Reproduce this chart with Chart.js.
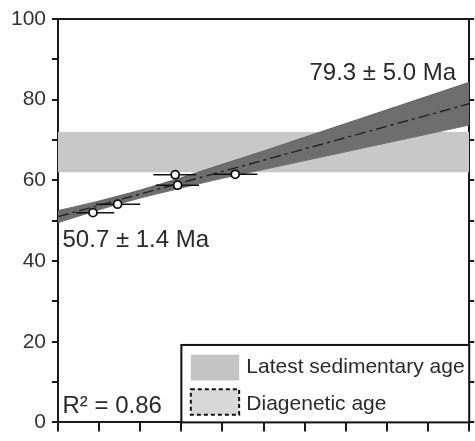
<!DOCTYPE html>
<html>
<head>
<meta charset="utf-8">
<script src="https://cdn.jsdelivr.net/npm/chart.js@4/dist/chart.umd.min.js"></script>
<style>
  body { margin: 0; background: #fff; }
  canvas { display: block; }
</style>
</head>
<body>
<canvas id="myChart" width="475" height="441"></canvas>
<script>
// sample ages with horizontal error bars
const pointX = [0.85, 1.45, 2.85, 2.91, 4.31];
const pointY = [52.0, 54.1, 61.4, 58.8, 61.5];
const errLow = [0.44, 0.93, 2.32, 2.38, 3.80];
const errHigh = [1.37, 2.00, 3.36, 3.43, 4.85];

// regression line and its envelope
const fitX = [0, 10];
const fitY = [51.0, 79.0];
const bandX = [0, 1, 2, 3, 4, 5, 6, 7, 8, 9, 10];
const bandUpper = [52.5, 54.9, 57.6, 60.7, 64.0, 67.3, 70.7, 74.1, 77.5, 80.9, 84.3];
const bandLower = [49.5, 52.7, 55.6, 58.1, 60.5, 62.7, 64.9, 67.1, 69.3, 71.5, 73.7];

// latest sedimentary age range
const latestAge = [62, 72];

const yTicks = [0, 20, 40, 60, 80, 100];

const FONT = '"Liberation Sans", Arial, sans-serif';

function pts(xs, ys) {
    return xs.map((x, i) => ({ x: x, y: ys[i] }));
}

// horizontal error bars, drawn just before the circles
const errorBars = {
    id: 'errorBars',
    beforeDatasetDraw(chart, args) {
        if (args.index !== 0) return;
        const { ctx, scales: { x, y } } = chart;
        ctx.save();
        ctx.strokeStyle = '#111';
        ctx.lineWidth = 1.5;
        pointY.forEach((v, i) => {
            const py = y.getPixelForValue(v);
            ctx.beginPath();
            ctx.moveTo(x.getPixelForValue(errLow[i]), py);
            ctx.lineTo(x.getPixelForValue(errHigh[i]), py);
            ctx.stroke();
        });
        ctx.restore();
    }
};

// text labels and the legend box
const notes = {
    id: 'notes',
    afterDraw(chart) {
        const { ctx, chartArea, scales: { x, y } } = chart;
        ctx.save();
        ctx.fillStyle = '#2a2a2a';
        ctx.textBaseline = 'alphabetic';
        ctx.font = '24px ' + FONT;
        ctx.textAlign = 'right';
        ctx.fillText('79.3 \u00b1 5.0 Ma', x.getPixelForValue(9.68), y.getPixelForValue(84.8));
        ctx.textAlign = 'left';
        ctx.fillText('50.7 \u00b1 1.4 Ma', x.getPixelForValue(0.11), y.getPixelForValue(43.4));
        ctx.fillText('R\u00b2 = 0.86', x.getPixelForValue(0.11), y.getPixelForValue(2.25));

        // legend
        const bx = x.getPixelForValue(3);
        const by = y.getPixelForValue(19.2);
        ctx.fillStyle = '#fff';
        ctx.fillRect(bx, by, chartArea.right - bx, chartArea.bottom - by);
        ctx.strokeStyle = '#111';
        ctx.lineWidth = 2;
        ctx.strokeRect(bx, by, chartArea.right - bx, chartArea.bottom - by);

        const sx0 = x.getPixelForValue(3.23), sx1 = x.getPixelForValue(4.405);
        ctx.fillStyle = '#c4c4c4';
        ctx.fillRect(sx0, y.getPixelForValue(16.8), sx1 - sx0, y.getPixelForValue(10.4) - y.getPixelForValue(16.8));

        const t2 = y.getPixelForValue(8.2), b2 = y.getPixelForValue(1.9);
        ctx.fillStyle = '#d8d8d8';
        ctx.fillRect(sx0, t2, sx1 - sx0, b2 - t2);
        ctx.setLineDash([4, 3]);
        ctx.lineWidth = 2;
        ctx.strokeRect(sx0, t2, sx1 - sx0, b2 - t2);
        ctx.setLineDash([]);

        ctx.fillStyle = '#2a2a2a';
        ctx.font = '21px ' + FONT;
        ctx.textBaseline = 'middle';
        const tx = x.getPixelForValue(4.58);
        ctx.fillText('Latest sedimentary age', tx, y.getPixelForValue(13.6));
        ctx.fillText('Diagenetic age', tx, y.getPixelForValue(4.6));
        ctx.restore();
    }
};

const axisColor = '#1a1a1a';

new Chart('myChart', {
    type: 'line',
    data: {
        datasets: [
            {
                label: 'samples',
                data: pts(pointX, pointY),
                showLine: false,
                pointRadius: 4,
                pointBorderWidth: 1.8,
                pointBackgroundColor: '#fff',
                pointBorderColor: '#111'
            },
            {
                label: 'fit',
                data: pts(fitX, fitY),
                borderColor: '#222',
                borderWidth: 1.4,
                borderDash: [11, 4, 3, 4],
                pointRadius: 0,
                fill: false
            },
            {
                label: 'upper',
                data: pts(bandX, bandUpper),
                borderColor: '#555',
                borderWidth: 0.8,
                backgroundColor: '#6e6e6e',
                pointRadius: 0,
                tension: 0.3,
                fill: '+1'
            },
            {
                label: 'lower',
                data: pts(bandX, bandLower),
                borderColor: '#555',
                borderWidth: 0.8,
                pointRadius: 0,
                tension: 0.3,
                fill: false
            },
            {
                label: 'latest top',
                data: pts([0, 10], [latestAge[1], latestAge[1]]),
                borderWidth: 0,
                backgroundColor: '#c8c8c8',
                pointRadius: 0,
                fill: '+1'
            },
            {
                label: 'latest bottom',
                data: pts([0, 10], [latestAge[0], latestAge[0]]),
                borderWidth: 0,
                pointRadius: 0,
                fill: false
            }
        ]
    },
    options: {
        responsive: false,
        devicePixelRatio: 1,
        animation: false,
        layout: { padding: { top: 19, left: 0, right: 0, bottom: 0 } },
        plugins: {
            legend: { display: false },
            tooltip: { enabled: false }
        },
        scales: {
            x: {
                type: 'linear',
                min: 0,
                max: 10,
                ticks: { stepSize: 1, callback: () => '', color: 'transparent' },
                grid: { drawOnChartArea: false, tickLength: 9, color: axisColor, lineWidth: 2 },
                border: { color: axisColor, width: 2 },
                afterFit: s => { s.height = 9; }
            },
            xTop: {
                type: 'linear',
                position: 'top',
                min: 0,
                max: 10,
                ticks: { display: false },
                grid: { display: false },
                border: { display: true, color: axisColor, width: 2 },
                afterFit: s => { s.height = 0; }
            },
            y: {
                min: 0,
                max: 100,
                ticks: {
                    stepSize: 10,
                    padding: 6,
                    color: '#333',
                    font: { family: FONT, size: 21 },
                    callback: v => yTicks.includes(v) ? v : ''
                },
                grid: { drawOnChartArea: false, tickLength: 6, color: axisColor, lineWidth: 2 },
                border: { color: axisColor, width: 2 },
                afterFit: s => { s.width = 58; }
            },
            yRight: {
                position: 'right',
                min: 0,
                max: 100,
                ticks: { stepSize: 10, callback: () => '', color: 'transparent' },
                grid: { drawOnChartArea: false, tickLength: 5, color: axisColor, lineWidth: 2 },
                border: { color: axisColor, width: 2 },
                afterFit: s => { s.width = 5; }
            }
        }
    },
    plugins: [errorBars, notes]
});
</script>
</body>
</html>
